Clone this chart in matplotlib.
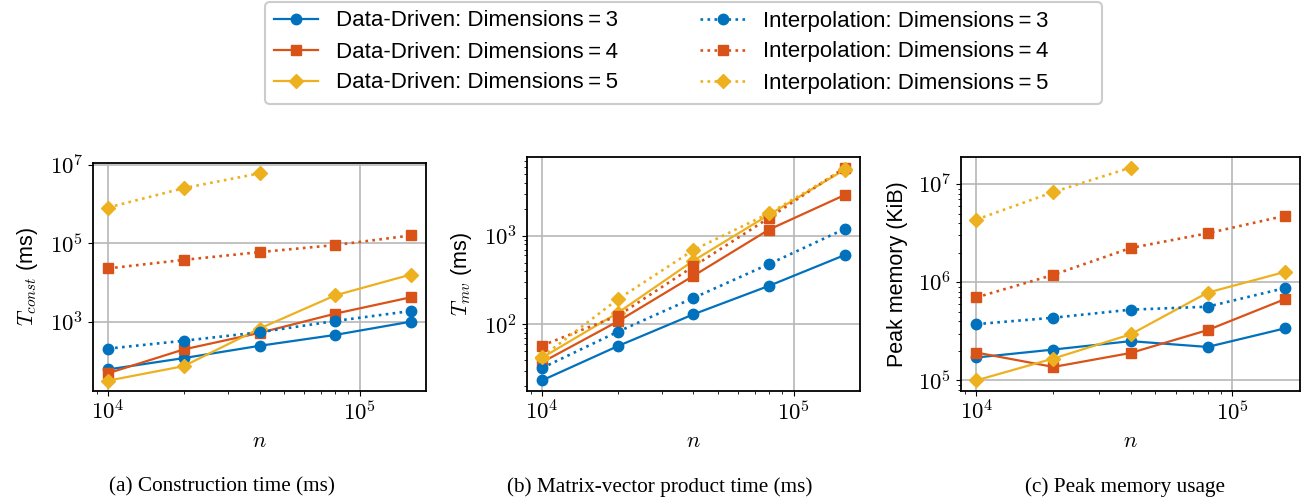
import numpy as np
import matplotlib
matplotlib.use('Agg')
import matplotlib.pyplot as plt
from matplotlib.patches import FancyBboxPatch
from matplotlib.ticker import FuncFormatter, FixedLocator, NullLocator

plt.rcParams['font.family'] = ['Liberation Sans', 'DejaVu Sans']
plt.rcParams['mathtext.fontset'] = 'cm'
plt.rcParams['font.size'] = 12

n = [1e4, 2e4, 4e4, 8e4, 1.6e5]

# construction time (ms)
const_dd3 = [60, 117, 241, 458, 1000]
const_dd4 = [48, 195, 516, 1600, 4200]
const_dd5 = [31, 73, 664, 4700, 16000]
const_ip3 = [204, 325, 535, 1040, 1870]
const_ip4 = [23000, 38000, 60000, 91000, 160000]
const_ip5 = [830000, 2600000, 6200000]

# matrix-vector product time (ms)
mv_dd3 = [23.3, 56.8, 130, 273, 608]
mv_dd4 = [37.3, 108, 354, 1180, 2900]
mv_dd5 = [42, 135, 525, 1740, 5600]
mv_ip3 = [32.2, 82.6, 199, 481, 1200]
mv_ip4 = [57.7, 125, 452, 1600, 5900]
mv_ip5 = [43, 192, 692, 1800, 5700]

# peak memory (KiB)
mem_dd3 = [171000, 206000, 251000, 219000, 338000]
mem_dd4 = [192000, 137000, 190000, 325000, 670000]
mem_dd5 = [100000, 167000, 294000, 783000, 1270000]
mem_ip3 = [374000, 435000, 525000, 563000, 870000]
mem_ip4 = [700000, 1190000, 2230000, 3150000, 4740000]
mem_ip5 = [4350000, 8300000, 14700000]

colors = ['#0072BD', '#D95319', '#EDB120']
markers = ['o', 's', 'D']
dims = [3, 4, 5]

panels = [
    ([const_dd3, const_dd4, const_dd5], [const_ip3, const_ip4, const_ip5],
     r'$T_{const}$ (ms)', '(a) Construction time (ms)'),
    ([mv_dd3, mv_dd4, mv_dd5], [mv_ip3, mv_ip4, mv_ip5],
     r'$T_{mv}$ (ms)', '(b) Matrix-vector product time (ms)'),
    ([mem_dd3, mem_dd4, mem_dd5], [mem_ip3, mem_ip4, mem_ip5],
     'Peak memory (KiB)', '(c) Peak memory usage'),
]

fig = plt.figure(figsize=(13.07, 5.04), dpi=100)
W, H = 1307, 504
boxes = [(93, 163, 426, 391), (527, 157, 860, 391), (961, 157, 1300, 391)]
caption_x = [222, 660, 1125]

pow10 = FuncFormatter(lambda v, _: r'$10^{%d}$' % int(round(np.log10(v))))

handles = []
for k, ((dd, ip, ylabel, caption), (x0, y0, x1, y1)) in enumerate(zip(panels, boxes)):
    ax = fig.add_axes([x0 / W, 1 - y1 / H, (x1 - x0) / W, (y1 - y0) / H])
    for i in range(3):
        h1, = ax.plot(n[:len(dd[i])], dd[i], color=colors[i], marker=markers[i],
                      ms=7.5, lw=1.6, label=f'Data-Driven: Dimensions\u2009=\u2009{dims[i]}')
        if k == 0:
            handles.append(h1)
    for i in range(3):
        h2, = ax.plot(n[:len(ip[i])], ip[i], color=colors[i], marker=markers[i],
                      ms=7.5, lw=1.9, ls=':', label=f'Interpolation: Dimensions\u2009=\u2009{dims[i]}')
        if k == 0:
            handles.append(h2)
    ax.set_xscale('log')
    ax.set_yscale('log')
    if k == 0:
        ax.yaxis.set_major_locator(FixedLocator([1e1, 1e3, 1e5, 1e7]))
        ax.yaxis.set_minor_locator(NullLocator())
    ax.xaxis.set_major_formatter(pow10)
    ax.yaxis.set_major_formatter(pow10)
    ax.grid(True, which='major', color='#b8b8b8', lw=1.2)
    ax.set_xlabel('$n$', fontsize=16)
    ax.set_ylabel(ylabel, fontsize=15.5, labelpad=7)
    ax.tick_params(labelsize=16.5)
    for s in ax.spines.values():
        s.set_linewidth(1.3)
    fig.text(caption_x[k] / W, 1 - 487 / H, caption, ha='center', va='center',
             family='Liberation Serif', fontsize=15.3)

# legend entries, with the wider rounded frame of the original drawn separately
fig.legend(handles=handles, ncol=2, loc='center', bbox_to_anchor=(661 / W, 1 - 52 / H),
           fontsize=16, frameon=False,
           columnspacing=3.7, handlelength=2.0, handletextpad=0.8, labelspacing=0.45)
frame = FancyBboxPatch((2.65, 5.04 - 1.04), 8.37, 1.02,
                       boxstyle='round,pad=0,rounding_size=0.05',
                       transform=fig.dpi_scale_trans, facecolor='white',
                       edgecolor='#cccccc', lw=1.5, zorder=-1)
fig.patches.append(frame)

fig.savefig('out.png', dpi=100)
